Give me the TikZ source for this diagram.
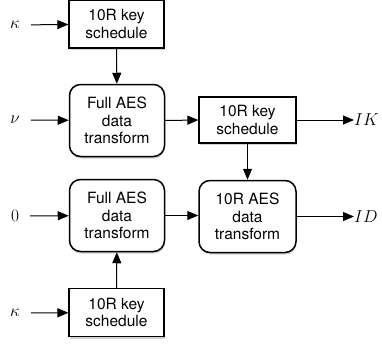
\documentclass[tikz,border=0pt]{standalone}
\usepackage{fontspec}
\setsansfont{TeX Gyre Heros}
\usepackage{tikz}
\usetikzlibrary{arrows.meta,shadows}

\begin{document}
\begin{tikzpicture}[x=1pt,y=-1pt]
\tikzstyle{keybox}=[rectangle,draw,line width=1.2pt,fill=white,align=center,font=\sffamily\fontsize{15.5}{17.5}\selectfont,
  minimum width=95pt,minimum height=48pt,inner sep=0pt,
  drop shadow={shadow xshift=0.5pt,shadow yshift=-2pt,opacity=0.35}]
\tikzstyle{aesbox}=[keybox,line width=1.5pt,rounded corners=11pt,minimum height=72pt]
\tikzstyle{inlab}=[inner sep=0pt,font=\fontsize{17}{19}\selectfont]
\tikzstyle{flow}=[line width=1pt,-{Triangle[length=11pt,width=9pt]}]

\useasboundingbox (0,0) rectangle (382,343);

\node[keybox] (ks1) at (116.5,24)  {10R key\\schedule} ;
\node[aesbox] (fa1) at (117,120.5) {Full AES\\data\\transform} ;
\node[keybox,minimum width=97pt,minimum height=46pt] (ks2) at (247.5,120) {10R key\\schedule} ;
\node[aesbox,minimum width=97pt] (ra) at (247.5,216.5) {10R AES\\data\\transform} ;
\node[aesbox] (fa2) at (117,215.5) {Full AES\\data\\transform} ;
\node[keybox] (ks3) at (116.5,312.5) {10R key\\schedule} ;

\node[inlab] (k1) at (15,25)   {$\kappa$} ;
\node[inlab] (n1) at (15,120)  {$\nu$} ;
\node[inlab] (z1) at (15,216)  {$0$} ;
\node[inlab] (k2) at (15,313)  {$\kappa$} ;
\node[inlab,anchor=west] (ik) at (354,120) {$IK$} ;
\node[inlab,anchor=west] (id) at (354,216.5) {$ID$} ;

\draw[flow,shorten <=11pt] (k1) -- (ks1) ;
\draw[flow,shorten <=11pt] (n1) -- (fa1) ;
\draw[flow,shorten <=11pt] (z1) -- (fa2) ;
\draw[flow,shorten <=11pt] (k2) -- (ks3) ;
\draw[flow] (ks1) -- (fa1) ;
\draw[flow] (ks3) -- (fa2) ;
\draw[flow] (fa1.east) -- (ks2.west) ;
\draw[flow] (fa2.east) -- (ra.west |- fa2.east) ;
\draw[flow] (ks2) -- (ra) ;
\draw[flow] (ks2) -- (ik) ;
\draw[flow] (ra) -- (id) ;

\end{tikzpicture}
\end{document}
